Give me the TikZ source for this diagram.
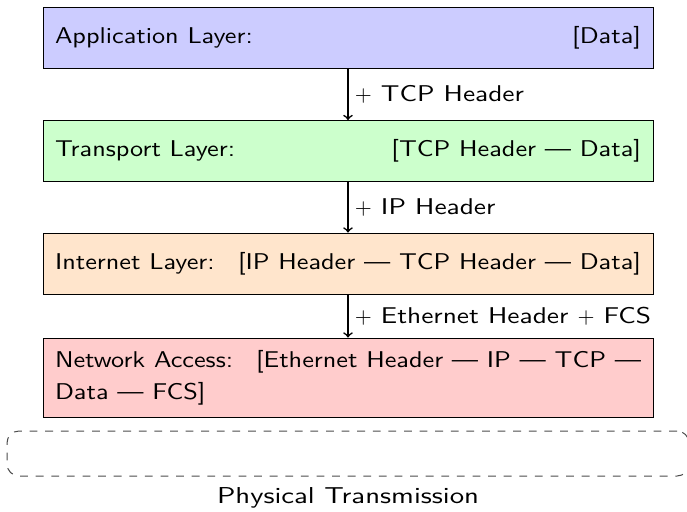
\documentclass[tikz,border=0pt]{standalone}
\usepackage{fontspec}
\setsansfont{lmsans10-regular}[Extension=.otf, FakeStretch=1.15]
\newfontfamily\physfont{lmsans10-regular}[Extension=.otf, FakeStretch=1.25]
\newfontfamily\lblfont{lmsans10-regular}[Extension=.otf, FakeStretch=1.2]
\renewcommand{\familydefault}{\sfdefault}
\begin{document}
\begin{tikzpicture}[x=0.5pt,y=-0.5pt,
  txt/.style={font=\fontsize{11.4}{15.8}\selectfont},
  layer/.style={txt, draw=black, line width=0.5pt, text width=293pt, inner xsep=6pt, inner ysep=6.15pt, minimum height=30.5pt, align=justify},
  flow/.style={->, line width=0.8pt},
  lbl/.style={font=\lblfont\fontsize{11.4}{14}\selectfont, right, inner sep=3pt}]
\useasboundingbox (0,0) rectangle (687,511);
\node[layer, fill=blue!20] (app) at (348,37.5) {Application Layer: \hfill [Data]};
\node[layer, fill=green!20] (trans) at (348,151) {Transport Layer: \hfill [TCP Header — Data]};
\node[layer, fill=orange!20] (inet) at (348,263.5) {Internet Layer: \hfill [IP Header — TCP Header — Data]};
\node[layer, fill=red!20] (net) at (348,377.5) {Network Access: \hfill [Ethernet Header — IP — TCP — Data — FCS]};
\draw[flow] (app) -- node[lbl] (l1) {$+$ TCP Header} (trans);
\draw[flow] (trans) -- node[lbl] (l2) {$+$ IP Header} (inet);
\draw[flow] (inet) -- node[lbl] (l3) {$+$ Ethernet Header $+$ FCS} (net);
\node[draw=black!70, dashed, dash pattern=on 3.9pt off 3.9pt, line width=0.5pt, rounded corners=6pt, minimum width=341pt, minimum height=22.5pt, inner sep=0pt] (phys) at (348,453.5) {};
\node[font=\physfont\fontsize{11.5}{14}\selectfont, anchor=base] (physlbl) at (348,503) {Physical Transmission};
\end{tikzpicture}
\end{document}
